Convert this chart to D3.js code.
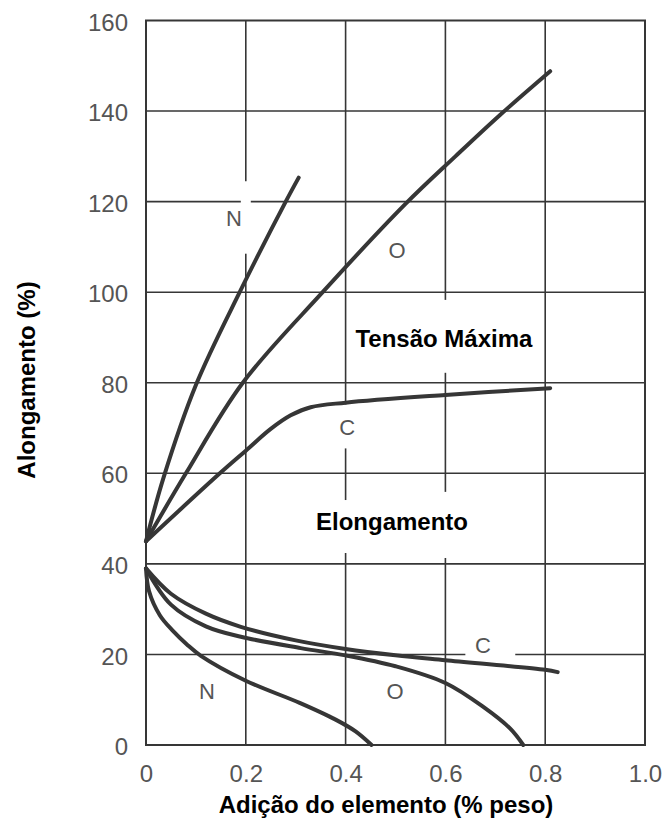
<!DOCTYPE html>
<html>
<head>
<meta charset="utf-8">
<script src="https://cdn.jsdelivr.net/npm/d3@7"></script>
<style>
  body { margin: 0; background: #fff; }
  svg { display: block; }
</style>
</head>
<body>
<svg id="chart" width="669" height="820"></svg>
<script>
// Tensão máxima (upper group) and elongamento (lower group), x = % peso, y = %
const upperN = [[0, 45], [0.035, 59], [0.1, 79.5], [0.19, 100.5], [0.28, 120], [0.306, 125.3]];
const upperO = [[0, 45], [0.08, 60], [0.194, 80], [0.354, 100], [0.52, 119.5], [0.62, 130], [0.71, 139.2], [0.81, 148.8]];
const upperC = [[0, 45], [0.148, 60], [0.2, 65], [0.25, 69.8], [0.29, 72.8], [0.33, 74.6], [0.4, 75.6], [0.6, 77.3], [0.81, 78.8]];

const lowerN = [[0, 39], [0.006, 34], [0.028, 28.6], [0.054, 25.2], [0.082, 22.2], [0.11, 19.7], [0.2, 14.2], [0.308, 9.3], [0.38, 5.6], [0.42, 3], [0.452, 0]];
const lowerO = [[0, 39], [0.05, 31], [0.12, 26.2], [0.19, 23.9], [0.31, 21.4], [0.4, 19.8], [0.5, 17.4], [0.6, 13.7], [0.676, 8.4], [0.73, 3.6], [0.756, 0]];
const lowerC = [[0, 39], [0.05, 33.4], [0.12, 29], [0.19, 26.1], [0.3, 23.1], [0.4, 21.2], [0.5, 19.8], [0.6, 18.7], [0.8, 16.6], [0.825, 16.1]];

const xTicks = [0, 0.2, 0.4, 0.6, 0.8, 1.0];
const yTicks = [0, 20, 40, 60, 80, 100, 120, 140, 160];

// small element labels next to the curves
const curveLabels = [
  { text: 'N', x: 0.176, y: 116.3 },
  { text: 'O', x: 0.503, y: 109.4 },
  { text: 'C', x: 0.403, y: 70.1 },
  { text: 'C', x: 0.675, y: 22.1 },
  { text: 'N', x: 0.122, y: 11.8 },
  { text: 'O', x: 0.499, y: 12.0 }
];
const groupLabels = [
  { text: 'Tensão Máxima', x: 0.597, y: 87.9 },
  { text: 'Elongamento', x: 0.493, y: 47.5 }
];
// places where the printed grid is broken around the labels [x0, x1, y0, y1]
const gridGaps = [
  [0.19, 0.21, 108.5, 124.5],
  [0.39, 0.41, 65.5, 75.2],
  [0.59, 0.61, 82.2, 98.3],
  [0.39, 0.41, 42.4, 54.1],
  [0.59, 0.61, 41.3, 55.9],
  [0.64, 0.74, 19, 21]
];

const ink = '#363636';
const svg = d3.select('#chart');
const x = d3.scaleLinear().domain([0, 1]).range([146, 645]);
const y = d3.scaleLinear().domain([0, 160]).range([745, 20.5]);

// grid
const grid = svg.append('g').attr('stroke', ink).attr('stroke-width', 1.6);
grid.selectAll('.v').data(xTicks.slice(1, -1)).join('line')
  .attr('x1', d => x(d)).attr('x2', d => x(d))
  .attr('y1', y(160)).attr('y2', y(0));
grid.selectAll('.h').data(yTicks.slice(1, -1)).join('line')
  .attr('x1', x(0)).attr('x2', x(1))
  .attr('y1', d => y(d)).attr('y2', d => y(d));

svg.append('g').selectAll('rect').data(gridGaps).join('rect')
  .attr('x', d => x(d[0])).attr('width', d => x(d[1]) - x(d[0]))
  .attr('y', d => y(d[3])).attr('height', d => y(d[2]) - y(d[3]))
  .attr('fill', '#fff');

svg.append('rect')
  .attr('x', x(0)).attr('y', y(160))
  .attr('width', x(1) - x(0)).attr('height', y(0) - y(160))
  .attr('fill', 'none').attr('stroke', ink).attr('stroke-width', 2);

// curves
const line = d3.line().x(d => x(d[0])).y(d => y(d[1])).curve(d3.curveCatmullRom.alpha(0.5));
svg.append('g').selectAll('path')
  .data([upperN, upperO, upperC, lowerN, lowerO, lowerC])
  .join('path')
  .attr('d', line)
  .attr('fill', 'none')
  .attr('stroke', ink)
  .attr('stroke-width', 4)
  .attr('stroke-linecap', 'round')
  .attr('stroke-linejoin', 'round');

// axes
const tickFont = g => g.selectAll('text')
  .attr('font-family', 'Liberation Sans, Arial, sans-serif')
  .attr('font-size', 24)
  .attr('fill', '#555');

svg.append('g')
  .attr('transform', `translate(0,${y(0)})`)
  .call(d3.axisBottom(x).tickValues(xTicks).tickSize(0)
    .tickFormat(d => (d === 0 ? '0' : d.toFixed(1))))
  .call(g => g.select('.domain').remove())
  .call(tickFont)
  .call(g => g.selectAll('text').attr('dy', null).attr('y', 37));

svg.append('g')
  .attr('transform', `translate(${x(0)},0)`)
  .call(d3.axisLeft(y).tickValues(yTicks).tickSize(0).tickPadding(18))
  .call(g => g.select('.domain').remove())
  .call(tickFont)
  .call(g => g.selectAll('text').attr('dy', '0.4em'));

// labels
svg.append('g').selectAll('text').data(curveLabels).join('text')
  .attr('x', d => x(d.x)).attr('y', d => y(d.y))
  .attr('dy', '0.36em')
  .attr('text-anchor', 'middle')
  .attr('font-family', 'Liberation Sans, Arial, sans-serif')
  .attr('font-size', 22)
  .attr('fill', '#555')
  .text(d => d.text);

const bold = sel => sel
  .attr('font-family', 'Liberation Sans, Arial, sans-serif')
  .attr('font-size', 24)
  .attr('font-weight', 'bold')
  .attr('fill', '#000');

svg.append('g').selectAll('text').data(groupLabels).join('text')
  .attr('x', d => x(d.x)).attr('y', d => y(d.y))
  .attr('text-anchor', 'middle')
  .call(bold)
  .text(d => d.text);

svg.append('text')
  .attr('x', 386).attr('y', 813)
  .attr('text-anchor', 'middle')
  .call(bold)
  .text('Adição do elemento (% peso)');

svg.append('text')
  .attr('transform', 'translate(35,380) rotate(-90)')
  .attr('text-anchor', 'middle')
  .call(bold)
  .text('Alongamento (%)');
</script>
</body>
</html>
